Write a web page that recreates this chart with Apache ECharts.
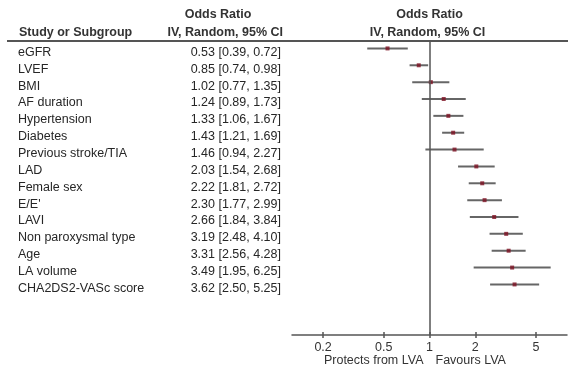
<!DOCTYPE html>
<html>
<head>
<meta charset="utf-8">
<script src="https://cdn.jsdelivr.net/npm/echarts@6/dist/echarts.min.js"></script>
<style>
  html, body { margin: 0; padding: 0; background: #fff; }
  #chart { width: 574px; height: 369px; }
</style>
</head>
<body>
<div id="chart"></div>
<script>
// Forest plot: odds ratios (IV, random, 95% CI) for predictors of LVA
const studies = ['eGFR', 'LVEF', 'BMI', 'AF duration', 'Hypertension', 'Diabetes',
  'Previous stroke/TIA', 'LAD', 'Female sex', "E/E'", 'LAVI', 'Non paroxysmal type',
  'Age', 'LA volume', 'CHA2DS2-VASc score'];
const oddsRatio = [0.53, 0.85, 1.02, 1.24, 1.33, 1.43, 1.46, 2.03, 2.22, 2.30, 2.66, 3.19, 3.31, 3.49, 3.62];
const ciLow = [0.39, 0.74, 0.77, 0.89, 1.06, 1.21, 0.94, 1.54, 1.81, 1.77, 1.84, 2.48, 2.56, 1.95, 2.50];
const ciHigh = [0.72, 0.98, 1.35, 1.73, 1.67, 1.69, 2.27, 2.68, 2.72, 2.99, 3.84, 4.10, 4.28, 6.25, 5.25];
const tickValues = [0.2, 0.5, 1, 2, 5];
const tickLabels = ['0.2', '0.5', '1', '2', '5'];

const FONT = 'Liberation Sans';
const TEXT = '#262626';
const rowIndex = studies.map((_, i) => i);
const fmt = v => v.toFixed(2);

function tickLabel(v) {
  let best = 0;
  tickValues.forEach((t, i) => { if (Math.abs(t - v) < Math.abs(tickValues[best] - v)) best = i; });
  return tickLabels[best];
}

const chart = echarts.init(document.getElementById('chart'), null, { renderer: 'canvas' });

const xBase = {
  type: 'log',
  min: 0.125,
  max: 8,
  position: 'bottom',
  splitLine: { show: false }
};

const option = {
  animation: false,
  backgroundColor: '#fff',
  grid: { left: 292, right: 7, top: 40, height: 295 },
  xAxis: [
    Object.assign({}, xBase, {
      axisLine: { onZero: false, lineStyle: { color: '#555', width: 1.5 } },
      axisTick: { length: 3, customValues: tickValues, lineStyle: { color: '#555', width: 1.5 } },
      axisLabel: {
        customValues: tickValues, margin: 6, fontSize: 12.5, color: '#333',
        fontFamily: FONT, formatter: tickLabel
      }
    }),
    Object.assign({}, xBase, {
      axisLine: { show: false, onZero: false },
      axisTick: { inside: true, length: 3, customValues: tickValues, lineStyle: { color: '#555', width: 1.5 } },
      axisLabel: { show: false }
    })
  ],
  yAxis: {
    type: 'value',
    inverse: true,
    min: -0.5,
    max: 17,
    axisLine: { show: false },
    axisTick: { show: false },
    splitLine: { show: false },
    axisLabel: {
      customValues: rowIndex,
      align: 'left',
      margin: 274,
      padding: [8, 0, 0, 0],
      formatter: v => {
        const i = Math.round(v);
        return '{n|' + studies[i] + '}{v|' + fmt(oddsRatio[i]) + ' [' + fmt(ciLow[i]) + ', ' + fmt(ciHigh[i]) + ']}';
      },
      rich: {
        n: { width: 168, align: 'left', fontSize: 12.5, fontFamily: FONT, color: TEXT },
        v: { width: 95, align: 'right', fontSize: 12.5, fontFamily: FONT, color: TEXT }
      }
    }
  },
  series: [
    {
      type: 'custom',
      name: 'CI',
      data: rowIndex.map(i => [ciLow[i], ciHigh[i], i]),
      encode: { x: [0, 1], y: 2 },
      renderItem: (params, api) => {
        const a = api.coord([api.value(0), api.value(2)]);
        const b = api.coord([api.value(1), api.value(2)]);
        return {
          type: 'line',
          shape: { x1: a[0], y1: a[1], x2: b[0], y2: b[1] },
          style: { stroke: '#666', lineWidth: 2 }
        };
      },
      silent: true,
      z: 2
    },
    {
      type: 'scatter',
      name: 'Odds Ratio',
      data: rowIndex.map(i => [oddsRatio[i], i]),
      symbol: 'rect',
      symbolSize: [4, 4],
      itemStyle: { color: '#7d1022' },
      silent: true,
      z: 3,
      markLine: {
        silent: true,
        symbol: 'none',
        label: { show: false },
        lineStyle: { color: '#555', width: 1.5, type: 'solid' },
        data: [{ xAxis: 1 }]
      }
    }
  ]
};

chart.setOption(option);

// Header rule, column titles and the direction captions under the axis
const xOne = chart.convertToPixel({ xAxisIndex: 0 }, 1);
const headStyle = { fontFamily: FONT, fontSize: 12.5, fontWeight: 'bold', fill: '#333' };
function txt(x, y, text, align, extra) {
  return {
    type: 'text', x: x, y: y, silent: true,
    style: Object.assign({ text: text, align: align, verticalAlign: 'middle' }, headStyle, extra || {})
  };
}
chart.setOption({
  graphic: [
    { type: 'line', silent: true, shape: { x1: 7, y1: 41, x2: 568, y2: 41 }, style: { stroke: '#555', lineWidth: 2 } },
    txt(19, 33, 'Study or Subgroup', 'left'),
    txt(218, 15, 'Odds Ratio', 'center'),
    txt(283, 33, 'IV, Random, 95% CI', 'right'),
    txt(xOne, 15, 'Odds Ratio', 'center'),
    txt(xOne - 2, 33, 'IV, Random, 95% CI', 'center'),
    txt(xOne - 6, 361, 'Protects from LVA', 'right', { fontWeight: 'normal' }),
    txt(xOne + 6, 361, 'Favours LVA', 'left', { fontWeight: 'normal' })
  ]
});
</script>
</body>
</html>
